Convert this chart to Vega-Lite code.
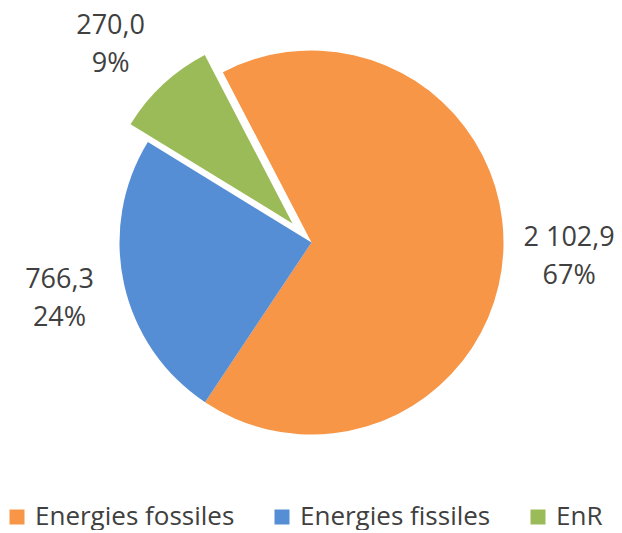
{
  "$schema": "https://vega.github.io/schema/vega-lite/v6.json",
  "width": 615,
  "height": 475,
  "padding": {"left": 0, "right": 0, "top": 5, "bottom": 0},
  "background": "white",
  "config": {"view": {"stroke": null}},
  "data": {"values": [
    {"cat": "Energies fossiles", "value": 2102.9, "idx": 1, "label": "2 102,9\n67%"},
    {"cat": "Energies fissiles", "value": 766.3, "idx": 2, "label": "766,3\n24%"},
    {"cat": "EnR", "value": 270.0, "idx": 3, "label": "270,0\n9%"}
  ]},
  "encoding": {
    "theta": {"field": "value", "type": "quantitative", "stack": true, "scale": {"range": [-0.48, 5.8032]}},
    "order": {"field": "idx", "type": "quantitative"},
    "color": {
      "field": "cat", "type": "nominal",
      "scale": {"domain": ["Energies fossiles", "Energies fissiles", "EnR"], "range": ["#F79646", "#558ED5", "#9BBB59"]},
      "legend": {"orient": "bottom", "direction": "horizontal", "title": null, "padding": 0, "symbolType": "square", "symbolSize": 225, "symbolStrokeWidth": 0, "labelFontSize": 26, "labelFont": "Open Sans", "labelColor": "#404040", "labelLimit": 0, "columnPadding": 34, "labelOffset": 5, "offset": 24}
    }
  },
  "layer": [
    {
      "mark": {"type": "arc", "outerRadius": 192},
      "encoding": {"opacity": {"condition": {"test": "datum.cat === 'EnR'", "value": 0}, "value": 1}}
    },
    {
      "mark": {"type": "arc", "outerRadius": 190, "xOffset": -19, "yOffset": -19},
      "encoding": {"opacity": {"condition": {"test": "datum.cat !== 'EnR'", "value": 0}, "value": 1}}
    },
    {
      "mark": {"type": "text", "radius": 258, "yOffset": -18, "font": "Open Sans", "fontSize": 27, "lineBreak": "\n", "lineHeight": 38, "align": "center", "baseline": "middle"},
      "encoding": {
        "text": {"field": "label"},
        "color": {"value": "#404040"},
        "opacity": {"condition": {"test": "datum.cat === 'EnR'", "value": 0}, "value": 1}
      }
    },
    {
      "mark": {"type": "text", "radius": 258, "xOffset": -25, "yOffset": -28, "font": "Open Sans", "fontSize": 27, "lineBreak": "\n", "lineHeight": 38, "align": "center", "baseline": "middle"},
      "encoding": {
        "text": {"field": "label"},
        "color": {"value": "#404040"},
        "opacity": {"condition": {"test": "datum.cat !== 'EnR'", "value": 0}, "value": 1}
      }
    }
  ]
}
